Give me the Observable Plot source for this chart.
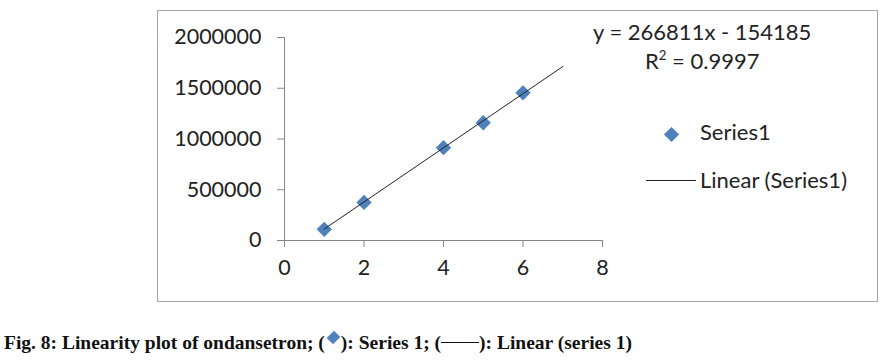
<!DOCTYPE html>
<html><head><meta charset="utf-8">
<script src="https://cdn.jsdelivr.net/npm/d3@7"></script>
<script src="https://cdn.jsdelivr.net/npm/@observablehq/plot@0.6"></script>
<style>
body{margin:0;background:#fff;width:888px;height:360px;position:relative;overflow:hidden;font-family:Lato,sans-serif;}
#chart{position:absolute;left:0;top:0;}
#border{position:absolute;left:157px;top:10px;width:721px;height:292px;border:1.5px solid #a6a6a6;box-sizing:border-box;}
.t{position:absolute;font-family:Lato,sans-serif;font-size:22px;color:#222;white-space:nowrap;line-height:1;}
#caption{position:absolute;left:4px;top:332px;font-family:"Liberation Serif","Times New Roman",serif;font-weight:bold;font-size:19.5px;color:#111;white-space:nowrap;}
.dm{display:inline-block;width:9px;height:9px;background:#4F81BD;transform:rotate(45deg) scale(1,1.15);vertical-align:7px;margin:0 3px 0 4px;}
</style></head><body>
<div id="border"></div>
<div id="chart"></div>
<div class="t" id="eq" style="left:593px;top:21px;"></div>
<div class="t" id="r2" style="left:645px;top:49px;"></div>
<div class="t" style="left:700px;top:121px;">Series1</div>
<div class="t" style="left:700px;top:169px;">Linear (Series1)</div>
<div style="position:absolute;left:646px;top:180px;width:50px;height:1px;background:#222;"></div>
<div id="caption">Fig. 8: Linearity plot of ondansetron; (<span class="dm"></span>): Series 1; (<span style="display:inline-block;width:38px;border-top:1.5px solid #111;vertical-align:6px;"></span>): Linear (series 1)</div>
<script>
const concentration = [1, 2, 4, 5, 6];
const peakArea = [110000, 375000, 915000, 1160000, 1455000];
const xTicks = [0, 2, 4, 6, 8];
const yTicks = [0, 500000, 1000000, 1500000, 2000000];
const slope = 266811;
const intercept = -154185;
const rSquared = 0.9997;
const trendRange = [1, 7];
const legendSymbolX = [0];

const points = concentration.map((x, i) => ({x, y: peakArea[i]}));
const trend = trendRange.map(x => ({x, y: slope * x + intercept}));

document.getElementById("eq").textContent = `y = ${slope}x - ${Math.abs(intercept)}`;
document.getElementById("r2").innerHTML = `R<sup style="font-size:0.6em;vertical-align:0.7em">2</sup> = ${rSquared}`;

const plot = Plot.plot({
  width: 888,
  height: 310,
  marginLeft: 284,
  marginRight: 286,
  marginTop: 37,
  marginBottom: 70,
  style: {fontFamily: "Lato, sans-serif", fontSize: "21.5px", color: "#222", background: "transparent"},
  x: {domain: [0, 8], ticks: xTicks, tickFormat: d => String(d)},
  y: {domain: [0, 2000000], ticks: yTicks, tickFormat: d => String(d)},
  marks: [
    Plot.axisX({ticks: xTicks, tickSize: 7, tickPadding: 12, stroke: "#868686", fill: "#222", label: null, tickFormat: d => String(d)}),
    Plot.axisY({ticks: yTicks, tickSize: 7, tickPadding: 16, stroke: "#868686", fill: "#222", label: null, tickFormat: d => String(d)}),
    Plot.ruleX([0], {stroke: "#868686"}),
    Plot.ruleY([0], {stroke: "#868686"}),
    Plot.dot(points, {x: "x", y: "y", symbol: "diamond2", r: 6.9, fill: "#4F81BD", stroke: "none"}),
    Plot.line(trend, {x: "x", y: "y", stroke: "#222", strokeWidth: 1})
  ]
});
document.getElementById("chart").appendChild(plot);

const leg = Plot.plot({
  width: 30, height: 30, margin: 0,
  x: {domain: [-1, 1], axis: null}, y: {domain: [-1, 1], axis: null},
  style: {background: "transparent"},
  marks: [Plot.dot(legendSymbolX, {x: d => d, y: d => d, symbol: "diamond2", r: 6.8, fill: "#4F81BD"})]
});
leg.style.position = "absolute"; leg.style.left = "656px"; leg.style.top = "119px";
document.body.appendChild(leg);
</script>
</body></html>
